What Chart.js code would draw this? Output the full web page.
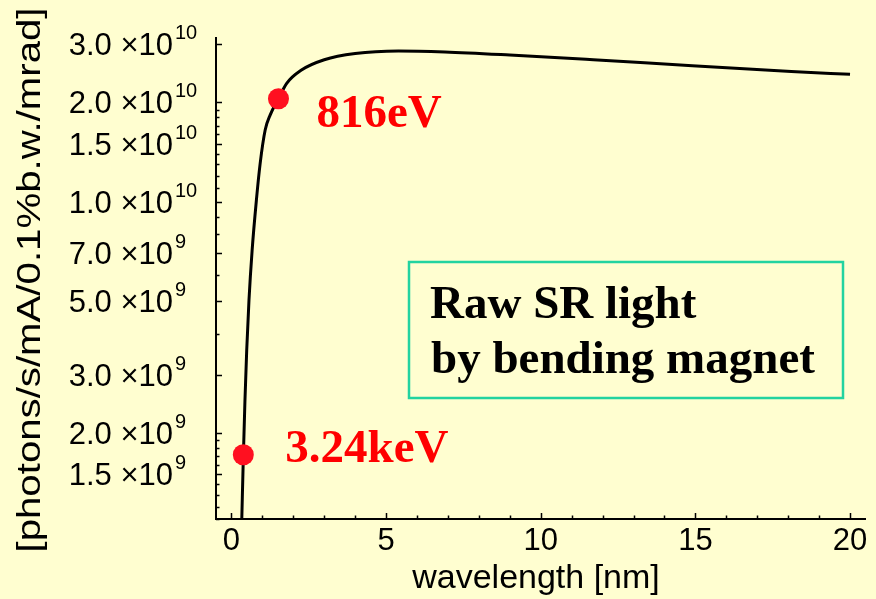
<!DOCTYPE html>
<html>
<head>
<meta charset="utf-8">
<script src="https://cdn.jsdelivr.net/npm/chart.js@4.4.0/dist/chart.umd.min.js"></script>
<style>
  html, body { margin: 0; padding: 0; background: #fffed0; }
  #wrap { width: 876px; height: 599px; }
</style>
</head>
<body>
<div id="wrap"><canvas id="chart" width="876" height="599"></canvas></div>
<script>
// Spectrum: wavelength [nm] vs photons/s/mA/0.1%b.w./mrad
const wavelength = [0.334, 0.385, 0.436, 0.493, 0.566, 0.668, 0.805, 0.929, 1.09, 1.25, 1.52, 1.78, 2.25, 3.0, 4.0, 5.4, 6.9, 9.0, 11.7, 14.9, 18.1, 20.0];
const flux = [1.10e9, 1.71e9, 2.51e9, 3.56e9, 5.04e9, 7.14e9, 1.01e10, 1.31e10, 1.65e10, 1.83e10, 2.05e10, 2.28e10, 2.50e10, 2.69e10, 2.81e10, 2.86e10, 2.84e10, 2.78e10, 2.69e10, 2.58e10, 2.48e10, 2.43e10];

// Marked photon energies
const markerLabels = ['3.24keV', '816eV'];
const markerWavelength = [0.383, 1.52];
const markerFlux = [1.72e9, 2.05e10];

// Axis ticks
const xMajorTicks = [0, 5, 10, 15, 20];
const xMinorTicks = [1, 2, 3, 4, 6, 7, 8, 9, 11, 12, 13, 14, 16, 17, 18, 19];
const yMajorTicks = [1.5e9, 2e9, 3e9, 5e9, 7e9, 1e10, 1.5e10, 2e10, 3e10];
const yMinorTicks = [1.1e9, 1.2e9, 1.3e9, 1.4e9, 1.6e9, 1.7e9, 1.8e9, 1.9e9, 4e9, 6e9, 8e9, 9e9,
                     1.1e10, 1.2e10, 1.3e10, 1.4e10, 1.6e10, 1.7e10, 1.8e10, 1.9e10];

const xTitle = 'wavelength [nm]';
const yTitle = '[photons/s/mA/0.1%b.w./mrad]';
const noteLines = ['Raw SR light', 'by bending magnet'];

const BG = '#fffed0';
const SANS = '"Liberation Sans", Arial, sans-serif';
const SERIF = '"Liberation Serif", "Times New Roman", serif';

// split 3.0e10 into "3.0 ×10" and "10"
function sciParts(v) {
    const e = Math.floor(Math.log10(v) + 1e-9);
    const m = v / Math.pow(10, e);
    return [m.toFixed(1) + ' \u00d710', String(e)];
}

const background = {
    id: 'background',
    beforeDraw(chart) {
        const ctx = chart.ctx;
        ctx.save();
        ctx.fillStyle = BG;
        ctx.fillRect(0, 0, chart.width, chart.height);
        ctx.restore();
    }
};

const decorations = {
    id: 'decorations',
    afterDraw(chart) {
        const ctx = chart.ctx;
        const xs = chart.scales.x;
        const ys = chart.scales.y;
        const area = chart.chartArea;
        ctx.save();

        // inward tick marks
        ctx.strokeStyle = '#000';
        ctx.lineWidth = 1.5;
        ctx.beginPath();
        xMajorTicks.concat(xMinorTicks).forEach(v => {
            const px = Math.round(xs.getPixelForValue(v)) + 0.5;
            const len = xMajorTicks.includes(v) ? 6 : 3.5;
            ctx.moveTo(px, area.bottom);
            ctx.lineTo(px, area.bottom - len);
        });
        yMajorTicks.concat(yMinorTicks).forEach(v => {
            const py = Math.round(ys.getPixelForValue(v)) + 0.5;
            const len = yMajorTicks.includes(v) ? 6 : 3.5;
            ctx.moveTo(area.left, py);
            ctx.lineTo(area.left + len, py);
        });
        ctx.stroke();

        // x tick labels
        ctx.fillStyle = '#000';
        ctx.font = '31px ' + SANS;
        ctx.textAlign = 'center';
        ctx.textBaseline = 'alphabetic';
        xMajorTicks.forEach(v => {
            ctx.fillText(String(v), xs.getPixelForValue(v), area.bottom + 31);
        });

        // y tick labels with superscript exponent
        yMajorTicks.forEach(v => {
            const py = ys.getPixelForValue(v);
            const [base, exp] = sciParts(v);
            ctx.font = '31px ' + SANS;
            ctx.textAlign = 'right';
            ctx.fillText(base, 173, py + 11);
            ctx.font = '20px ' + SANS;
            ctx.textAlign = 'left';
            ctx.fillText(exp, 175, py - 5);
        });

        // axis titles
        ctx.font = '34px ' + SANS;
        ctx.textAlign = 'center';
        ctx.fillText(xTitle, 536, 588);

        ctx.save();
        ctx.translate(40, 280);
        ctx.rotate(-Math.PI / 2);
        const w = ctx.measureText(yTitle).width;
        ctx.scale(545 / w, 1);
        ctx.fillText(yTitle, 0, 0);
        ctx.restore();

        // energy labels next to the markers
        ctx.fillStyle = '#ff0000';
        ctx.font = 'bold 47px ' + SERIF;
        ctx.textAlign = 'left';
        const offsets = [[42, 7], [38, 28]];
        markerLabels.forEach((t, i) => {
            const px = xs.getPixelForValue(markerWavelength[i]);
            const py = ys.getPixelForValue(markerFlux[i]);
            ctx.fillText(t, px + offsets[i][0], py + offsets[i][1]);
        });

        // note box
        ctx.strokeStyle = '#22d3a0';
        ctx.lineWidth = 2.5;
        ctx.strokeRect(409, 262, 434, 136);
        ctx.fillStyle = '#000';
        ctx.font = 'bold 47px ' + SERIF;
        ctx.fillText(noteLines[0], 430, 318);
        ctx.fillText(noteLines[1], 431, 373);

        ctx.restore();
    }
};

new Chart(document.getElementById('chart'), {
    type: 'line',
    data: {
        datasets: [
            {
                data: wavelength.map((x, i) => ({ x: x, y: flux[i] })),
                borderColor: '#000',
                borderWidth: 3,
                pointRadius: 0,
                cubicInterpolationMode: 'monotone',
                fill: false,
                order: 1
            },
            {
                type: 'scatter',
                data: markerWavelength.map((x, i) => ({ x: x, y: markerFlux[i] })),
                backgroundColor: '#ff1020',
                borderWidth: 0,
                pointRadius: 10.5,
                showLine: false,
                order: 0
            }
        ]
    },
    options: {
        responsive: false,
        animation: false,
        devicePixelRatio: 1,
        layout: { padding: { top: 38, left: 0, right: 0, bottom: 0 } },
        plugins: { legend: { display: false }, tooltip: { enabled: false } },
        scales: {
            x: {
                type: 'linear',
                min: -0.5,
                max: 20.5,
                grid: { display: false, drawTicks: false },
                border: { display: true, color: '#000', width: 2 },
                ticks: { display: false },
                afterFit(scale) { scale.height = 80; }
            },
            y: {
                type: 'logarithmic',
                min: 1.1e9,
                max: 3.13e10,
                grid: { display: false, drawTicks: false },
                border: { display: true, color: '#000', width: 2 },
                ticks: { display: false },
                afterFit(scale) { scale.width = 216; }
            }
        }
    },
    plugins: [background, decorations]
});
</script>
</body>
</html>
